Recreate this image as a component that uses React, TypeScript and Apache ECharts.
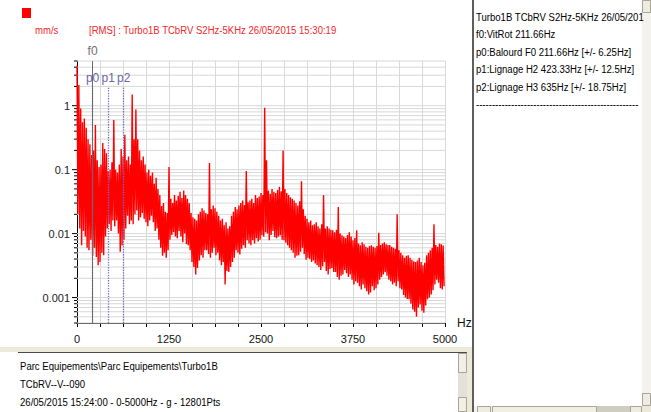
import React, { useEffect, useRef } from 'react';
import * as echarts from 'echarts';

// ---- data ----
const spectrumStepHz = 25;
// local maxima of the spectrum (at f = k*25 Hz), mm/s RMS
const upperValues = [
  4.2, 2.1, 0.9, 0.55, 0.63, 0.45, 0.3, 0.25, 0.17, 0.2,
  0.5, 0.14, 0.11, 0.12, 0.26, 0.21, 0.18, 0.095, 0.1, 0.13,
  0.6, 0.1, 0.09, 0.12, 0.21, 0.16, 0.35, 0.14, 0.16, 0.12,
  1.5, 0.3, 0.87, 0.3, 0.2, 0.14, 0.16, 0.12, 0.09, 0.1,
  0.08, 0.09, 0.06, 0.075, 0.05, 0.04, 0.027, 0.03, 0.022, 0.021,
  0.11, 0.035, 0.03, 0.04, 0.033, 0.039, 0.045, 0.036, 0.047, 0.04,
  0.035, 0.03, 0.021, 0.018, 0.017, 0.016, 0.02, 0.022, 0.025, 0.023,
  0.021, 0.02, 0.127, 0.024, 0.0275, 0.025, 0.022, 0.019, 0.016, 0.017,
  0.0135, 0.015, 0.012, 0.013, 0.019, 0.022, 0.026, 0.024, 0.0275, 0.03,
  0.033, 0.028, 0.095, 0.031, 0.033, 0.035, 0.03, 0.04, 0.036, 0.038,
  0.043, 0.04, 0.93, 0.14, 0.047, 0.042, 0.05, 0.045, 0.043, 0.048,
  0.054, 0.046, 0.2, 0.05, 0.043, 0.04, 0.037, 0.035, 0.033, 0.03,
  0.0275, 0.032, 0.066, 0.024, 0.019, 0.017, 0.015, 0.016, 0.0135, 0.014,
  0.015, 0.013, 0.012, 0.014, 0.04, 0.012, 0.013, 0.012, 0.0115, 0.0113,
  0.0105, 0.0115, 0.026, 0.01, 0.0094, 0.009, 0.0085, 0.0095, 0.0105, 0.009,
  0.0079, 0.0085, 0.0113, 0.007, 0.0066, 0.0073, 0.0068, 0.0062, 0.006, 0.0064,
  0.0066, 0.0062, 0.006, 0.0064, 0.0103, 0.0066, 0.007, 0.0073, 0.0068, 0.0066,
  0.0066, 0.0062, 0.006, 0.0058, 0.02, 0.0055, 0.005, 0.0046, 0.0042, 0.0045,
  0.0046, 0.0042, 0.0039, 0.0037, 0.0036, 0.0038, 0.0042, 0.0036, 0.0032, 0.0035,
  0.0046, 0.005, 0.0055, 0.006, 0.014, 0.0066, 0.0062, 0.007, 0.0068, 0.0065,
];
// local minima of the spectrum (at f = k*25 + 12.5 Hz)
const lowerValues = [
  0.02, 0.012, 0.0066, 0.011, 0.009, 0.006, 0.0055, 0.008, 0.0045, 0.006,
  0.0043, 0.0032, 0.0036, 0.005, 0.0046, 0.009, 0.012, 0.014, 0.011, 0.016,
  0.013, 0.016, 0.01, 0.0052, 0.0065, 0.008, 0.012, 0.019, 0.014, 0.016,
  0.014, 0.02, 0.023, 0.016, 0.018, 0.021, 0.017, 0.015, 0.013, 0.016,
  0.019, 0.015, 0.011, 0.012, 0.008, 0.006, 0.0045, 0.005, 0.0042, 0.0055,
  0.008, 0.0095, 0.0105, 0.009, 0.0085, 0.011, 0.009, 0.0073, 0.01, 0.0068,
  0.0066, 0.0055, 0.0036, 0.003, 0.0023, 0.0029, 0.0038, 0.0046, 0.0042, 0.0055,
  0.0055, 0.0048, 0.0042, 0.005, 0.006, 0.0046, 0.005, 0.0038, 0.0032, 0.0036,
  0.0016, 0.0026, 0.0025, 0.003, 0.0036, 0.0042, 0.0055, 0.005, 0.0047, 0.0058,
  0.0066, 0.006, 0.0079, 0.007, 0.0066, 0.0079, 0.007, 0.0085, 0.0075, 0.008,
  0.0094, 0.009, 0.0105, 0.01, 0.0079, 0.0095, 0.011, 0.0088, 0.0085, 0.009,
  0.0094, 0.008, 0.0079, 0.0072, 0.0066, 0.006, 0.0055, 0.005, 0.0042, 0.0045,
  0.0046, 0.0052, 0.006, 0.0048, 0.0039, 0.0042, 0.004, 0.0036, 0.0038, 0.0034,
  0.0032, 0.003, 0.0027, 0.0031, 0.0036, 0.0026, 0.0023, 0.0028, 0.0029, 0.0025,
  0.0025, 0.0021, 0.0019, 0.0022, 0.0023, 0.0027, 0.0024, 0.0021, 0.0023, 0.0019,
  0.0016, 0.0018, 0.0017, 0.0015, 0.00134, 0.0016, 0.0014, 0.00125, 0.00112, 0.0012,
  0.0015, 0.0013, 0.0014, 0.0016, 0.0019, 0.0021, 0.0023, 0.0025, 0.0022, 0.0019,
  0.0018, 0.0016, 0.0017, 0.0015, 0.0018, 0.0014, 0.00134, 0.0011, 0.001, 0.00095,
  0.00094, 0.0008, 0.00065, 0.0006, 0.0005, 0.0007, 0.00078, 0.00062, 0.00058, 0.00075,
  0.00094, 0.001, 0.00112, 0.0013, 0.0016, 0.0019, 0.0017, 0.0014, 0.00134, 0.0015,
];

const f0Hz = 211.66;
const markerNames = ['p0', 'p1', 'p2'];
const markerFreqs = [211.66, 423.33, 635];
const markerTopValue = 2; // mm/s where the dotted marker lines stop

const xTickLabels = [0, 1250, 2500, 3750, 5000];
const yMin = 0.0004;
const yMax = 5;
const gridMultipliers = [1, 2, 3, 4, 5, 6, 7, 8, 9];
const gridDecades = [-4, -3, -2, -1, 0];

const titleText = '[RMS] : Turbo1B TCbRV S2Hz-5KHz 26/05/2015 15:30:19';
const unitText = 'mm/s';
const bottomLines = [
  'Parc Equipements\\Parc Equipements\\Turbo1B',
  'TCbRV--V--090',
  '26/05/2015 15:24:00 - 0-5000Hz - g - 12801Pts',
];
const rightLines = [
  'Turbo1B TCbRV S2Hz-5KHz 26/05/201',
  'f0:VitRot 211.66Hz',
  'p0:Balourd F0 211.66Hz [+/- 6.25Hz]',
  'p1:Lignage H2 423.33Hz [+/- 12.5Hz]',
  'p2:Lignage H3 635Hz [+/- 18.75Hz]',
  '---------------------------------------------------',
];

const FONT = "'Liberation Sans', Arial, sans-serif";
const SX = 0.87;

export default function App() {
  const ref = useRef<HTMLDivElement>(null);
  useEffect(() => {
    document.body.style.margin = '0';
    const chart = echarts.init(ref.current!, null, { renderer: 'svg' });

    const lineData: number[][] = [];
    upperValues.forEach((u, k) => {
      lineData.push([k * spectrumStepHz, Math.log10(u)]);
      lineData.push([k * spectrumStepHz + spectrumStepHz / 2, Math.log10(lowerValues[k])]);
    });

    const lmin = Math.log10(yMin);
    const lmax = Math.log10(yMax);
    const gridData: number[][] = [];
    gridDecades.forEach((d) => {
      gridMultipliers.forEach((m) => {
        const v = m * Math.pow(10, d);
        const lv = Math.log10(v);
        if (lv >= lmin - 1e-9 && lv <= lmax + 1e-9) gridData.push([0, lv, m === 1 ? 1 : 0]);
      });
    });

    const markLineData: any[] = [];
    markerFreqs.forEach((f, i) => {
      markLineData.push([
        { coord: [f, lmin], symbol: 'none' },
        {
          coord: [f, Math.log10(markerTopValue)],
          symbol: 'none',
          label: { show: true, position: 'end', formatter: markerNames[i], color: '#6868a8', fontSize: 12, fontFamily: FONT, distance: 2 },
          lineStyle: { color: '#7070c8', type: 'dotted', width: 1.3 },
        },
      ]);
    });
    markLineData.push([
      { coord: [f0Hz, lmin], symbol: 'none' },
      {
        coord: [f0Hz, lmax],
        symbol: 'none',
        label: { show: true, position: 'end', formatter: 'f0', color: '#707070', fontSize: 12, fontFamily: FONT, distance: 4 },
        lineStyle: { color: '#6a6a6a', type: 'solid', width: 1 },
      },
    ]);

    const txt = (x: number, y: number, text: string, fill: string, size = 11) => ({
      type: 'text',
      x,
      y,
      z: 20,
      scaleX: SX,
      style: { text, fill, font: `${size}px ${FONT}`, verticalAlign: 'middle', align: 'left' },
    });
    const rect = (x: number, y: number, w: number, h: number, fill: string, stroke?: string) => ({
      type: 'rect',
      z: 10,
      shape: { x, y, width: w, height: h },
      style: stroke ? { fill, stroke, lineWidth: 1 } : { fill },
    });

    const graphic: any[] = [
      rect(22, 8, 9, 10, '#ff0000'),
      txt(35, 30, unitText, '#f02828'),
      txt(89, 30, titleText, '#f02828'),
      // bottom info panel
      rect(0, 347, 472, 5, '#ece9d8'),
      rect(18, 352, 450, 1, '#4a4a4a'),
      rect(18, 353, 440, 59, '#ffffff'),
      txt(20, 366, bottomLines[0], '#000000'),
      txt(20, 384, bottomLines[1], '#000000'),
      txt(20, 402, bottomLines[2], '#000000'),
      rect(458, 353, 9, 59, '#e4e1d8'),
      rect(458.5, 353.5, 8, 19, '#f2f0e6', '#a8a496'),
      rect(458.5, 397.5, 8, 14, '#f2f0e6', '#a8a496'),
      rect(467, 352, 5, 60, '#ece9d8'),
      // separator
      rect(472, 0, 2, 412, '#5e5e5e'),
      // right panel
      ...rightLines.map((t, i) => txt(476, 17 + i * 17.5, t, '#000000')),
      rect(642, 0, 9, 406, '#f3f2ec'),
      rect(642.5, 0.5, 8, 12, '#eeece2', '#a8a496'),
      rect(642.5, 393.5, 8, 12, '#eeece2', '#a8a496'),
      rect(474, 406, 168, 6, '#f3f2ec'),
      rect(477.5, 406.5, 13, 6, '#eeece2', '#a8a496'),
      rect(492.5, 406.5, 104, 6, '#f1efe4', '#a8a496'),
      rect(597, 406, 33, 6, '#cfccc2'),
      rect(630.5, 406.5, 11, 6, '#eeece2', '#a8a496'),
      rect(642, 406, 9, 6, '#ece9d8'),
    ];

    chart.setOption({
      animation: false,
      backgroundColor: '#ffffff',
      grid: { left: 77, top: 61, width: 368, height: 262, containLabel: false },
      xAxis: {
        type: 'value',
        min: 0,
        max: 5000,
        interval: 312.5,
        axisLine: { show: true, onZero: false, lineStyle: { color: '#000000', width: 1 } },
        axisTick: { show: true, length: 4, lineStyle: { color: '#000000' } },
        axisLabel: {
          formatter: (v: number) => (xTickLabels.includes(v) ? String(v) : ''),
          color: '#111111',
          fontSize: 11,
          fontFamily: FONT,
          margin: 10,
        },
        splitLine: { show: true, lineStyle: { color: '#d8d8d8', width: 1 } },
        name: 'Hz',
        nameLocation: 'end',
        nameGap: 12,
        nameTextStyle: { color: '#111111', fontSize: 12, fontFamily: FONT, padding: [10, 0, 0, 0] },
      },
      yAxis: {
        type: 'value',
        min: lmin,
        max: lmax,
        minInterval: 1,
        maxInterval: 1,
        axisLine: { show: true, onZero: false, lineStyle: { color: '#000000', width: 1 } },
        axisTick: { show: false },
        splitLine: { show: false },
        axisLabel: {
          showMinLabel: false,
          showMaxLabel: false,
          margin: 7,
          color: '#222222',
          fontSize: 11,
          fontFamily: FONT,
          formatter: (v: number) => {
            const r = Math.round(v);
            if (Math.abs(v - r) > 1e-6) return '';
            return String(Math.pow(10, r).toFixed(Math.max(0, -r)));
          },
        },
      },
      series: [
        {
          type: 'custom',
          z: 1,
          clip: false,
          silent: true,
          data: gridData,
          encode: { x: 0, y: 1 },
          renderItem: (params: any, api: any) => {
            const lv = api.value(1);
            const dec = api.value(2) === 1;
            const a = api.coord([0, lv]);
            const b = api.coord([5000, lv]);
            return {
              type: 'group',
              children: [
                { type: 'line', shape: { x1: a[0], y1: a[1], x2: b[0], y2: b[1] }, style: { stroke: '#d8d8d8', lineWidth: 1 } },
                { type: 'line', shape: { x1: a[0] - (dec ? 5 : 3), y1: a[1], x2: a[0], y2: a[1] }, style: { stroke: '#000000', lineWidth: 1 } },
              ],
            };
          },
        },
        {
          type: 'line',
          z: 3,
          data: lineData,
          showSymbol: false,
          symbol: 'none',
          lineStyle: { color: '#ff0000', width: 1.4 },
        },
        {
          type: 'line',
          z: 5,
          data: [],
          markLine: {
            silent: true,
            symbol: ['none', 'none'],
            animation: false,
            data: markLineData,
          },
        },
      ],
      graphic,
    });
    return () => chart.dispose();
  }, []);
  return <div ref={ref} style={{ width: 651, height: 412, position: 'absolute', left: 0, top: 0 }} />;
}
